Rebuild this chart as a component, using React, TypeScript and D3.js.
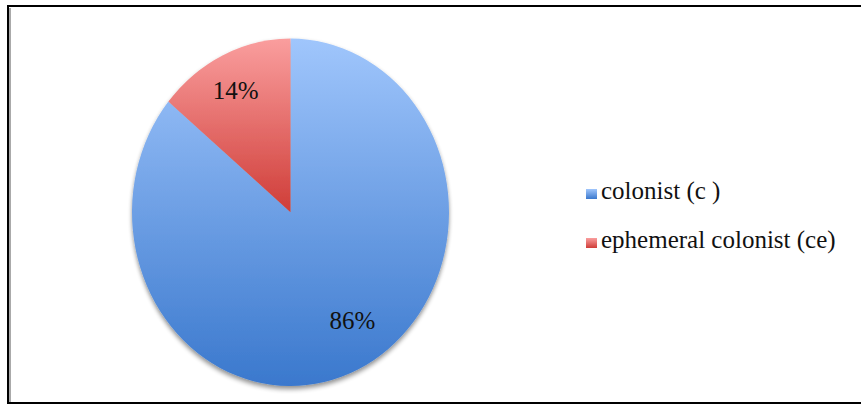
import React from "react";
import * as d3 from "d3";

const categories = ["colonist (c )", "ephemeral colonist (ce)"];
const values = [86, 14];
const labels = ["86%", "14%"];
const gradTop = ["#a0c6fc", "#fa9e9e"];
const gradBottom = ["#3a78cd", "#cf3d38"];

export default function App() {
  const W = 861, H = 405;
  const cx = 290.5, cy = 212.3, rx = 158.5, ry = 173.7;
  const pie = d3.pie<number>().sort(null).value((d) => d);
  const arcs = pie(values);
  const arc = d3.arc<d3.PieArcDatum<number>>().innerRadius(0).outerRadius(ry);
  const labelArc = d3.arc<d3.PieArcDatum<number>>().innerRadius(ry * 0.76).outerRadius(ry * 0.76);
  const nudge = [[10.5, -11], [-3.5, -2]];
  const sx = rx / ry;
  const font = "'Liberation Serif', 'Times New Roman', serif";
  return (
    <svg width={W} height={H} style={{ position: "absolute", left: 0, top: 0 }}>
      <defs>
        {categories.map((c, i) => (
          <linearGradient key={c} id={`g${i}`} x1="0" y1="0" x2="0" y2="1">
            <stop offset="0" stopColor={gradTop[i]} />
            <stop offset="1" stopColor={gradBottom[i]} />
          </linearGradient>
        ))}
        <filter id="sh" x="-20%" y="-20%" width="140%" height="140%">
          <feGaussianBlur in="SourceAlpha" stdDeviation="2.5" />
          <feOffset dx="0" dy="3" result="b" />
          <feComponentTransfer>
            <feFuncA type="linear" slope="0.45" />
          </feComponentTransfer>
          <feMerge>
            <feMergeNode />
            <feMergeNode in="SourceGraphic" />
          </feMerge>
        </filter>
      </defs>
      <rect x={0} y={0} width={W} height={H} fill="#fff" />
      <line x1={10} y1={8} x2={10} y2={402} stroke="#aaa" strokeWidth={2} />
      <rect x={8} y={6} width={900} height={397} fill="none" stroke="#000" strokeWidth={2} />
      <g transform={`translate(${cx},${cy}) scale(${sx},1)`} filter="url(#sh)">
        {arcs.map((a, i) => (
          <path key={i} d={arc(a) || ""} fill={`url(#g${i})`} />
        ))}
      </g>
      {arcs.map((a, i) => {
        const [lx, ly] = labelArc.centroid(a);
        return (
          <text key={i} x={cx + lx * sx + nudge[i][0]} y={cy + ly + nudge[i][1]} textAnchor="middle" dominantBaseline="central"
            fontFamily={font} fontSize={25} fill="#111">{labels[i]}</text>
        );
      })}
      {categories.map((c, i) => (
        <g key={c} transform={`translate(586,${189 + i * 49})`}>
          <rect x={0} y={0} width={11} height={10} fill={`url(#g${i})`} />
          <text x={15} y={10} fontFamily={font} fontSize={25} fill="#111">{c}</text>
        </g>
      ))}
    </svg>
  );
}
